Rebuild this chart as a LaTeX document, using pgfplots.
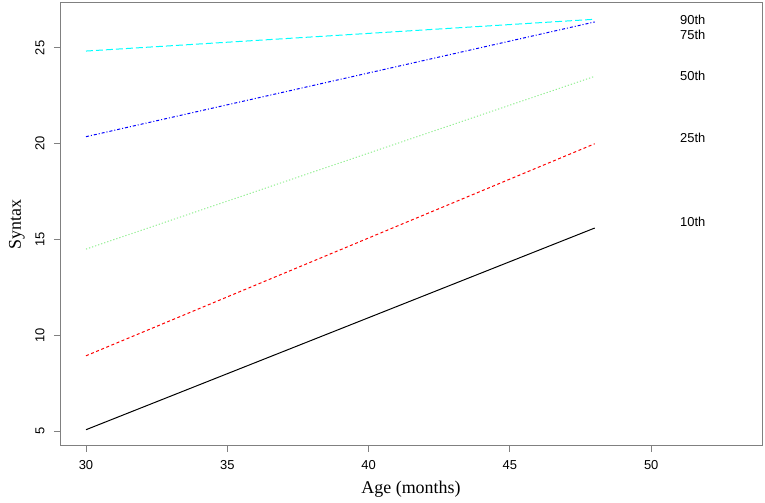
\documentclass[border=0pt]{standalone}
\usepackage{pgfplots}
\pgfplotsset{compat=1.18}
\usepackage{fontspec}
\setmainfont{Liberation Serif}
\newfontfamily\arial{Liberation Sans}
\definecolor{rgrey}{RGB}{128,128,128}
\definecolor{lgreen}{RGB}{144,238,144}
\definecolor{rcyan}{RGB}{0,255,255}
\begin{document}
\begin{tikzpicture}[x=1bp,y=1bp]
\path[use as bounding box] (0,0) rectangle (765,503);
\begin{axis}[
  at={(60bp,57bp)}, anchor=south west,
  scale only axis, width=702bp, height=443bp,
  xmin=29.08, xmax=53.92, ymin=4.22, ymax=27.35,
  xtick={30,35,40,45,50}, ytick={5,10,15,20,25},
  axis line style={rgrey, line width=1pt},
  tick style={rgrey, line width=1pt},
  tick align=outside, major tick length=6bp,
  xtick pos=bottom, ytick pos=left,
  ticklabel style={font=\arial\fontsize{13}{15}\selectfont},
  /pgf/number format/assume math mode=true,
  xticklabel style={yshift=-5bp},
  yticklabel style={rotate=90, anchor=south, yshift=6bp},
  xlabel={Age (months)}, ylabel={Syntax},
  label style={font=\fontsize{18}{21}\selectfont},
  xlabel style={at={(axis description cs:0.5,0)}, anchor=center, yshift=-43bp},
  ylabel style={at={(axis description cs:-0.0613,0.5)}, anchor=center},
  clip=false,
]
\addplot[black, line width=1pt] coordinates {(30,5.07) (48,15.6)};
\addplot[red, line width=1pt, dash pattern=on 3bp off 2.5bp] coordinates {(30,8.93) (48,20.0)};
\addplot[lgreen, line width=1pt, dash pattern=on 1.2bp off 2bp] coordinates {(30,14.5) (48,23.52)};
\addplot[blue, line width=1pt, dash pattern=on 3bp off 2bp on 1bp off 2bp] coordinates {(30,20.37) (48,26.36)};
\addplot[rcyan, line width=1pt, dash pattern=on 7bp off 3bp] coordinates {(30,24.84) (48,26.5)};
\node[anchor=west, font=\arial\fontsize{13}{15}\selectfont] at (axis cs:50.9,26.45) {90th};
\node[anchor=west, font=\arial\fontsize{13}{15}\selectfont] at (axis cs:50.9,25.68) {75th};
\node[anchor=west, font=\arial\fontsize{13}{15}\selectfont] at (axis cs:50.9,23.52) {50th};
\node[anchor=west, font=\arial\fontsize{13}{15}\selectfont] at (axis cs:50.9,20.3) {25th};
\node[anchor=west, font=\arial\fontsize{13}{15}\selectfont] at (axis cs:50.9,15.93) {10th};
\end{axis}
\end{tikzpicture}
\end{document}
